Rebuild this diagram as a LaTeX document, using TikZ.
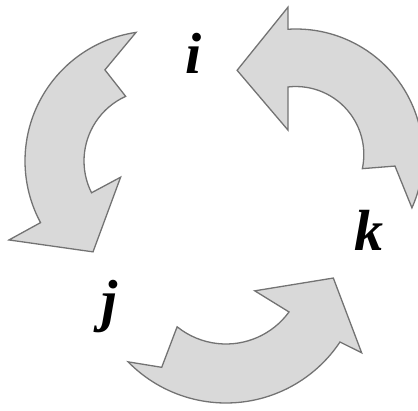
\documentclass[tikz,border=0pt]{standalone}
\usepackage{fontspec}
\setmainfont{Liberation Serif}
\begin{document}
\begin{tikzpicture}[x=1pt,y=-1pt,
  ar/.style={draw=black!55,fill=black!15,line width=1.3pt,line join=miter},
  lb/.style={font=\fontsize{58}{62}\selectfont\bfseries\itshape,anchor=base,inner sep=0pt}]
\useasboundingbox (0,0) rectangle (418,410);
%------------- arrow i -> j (left)
\begin{scope}[shift={(155,161)}]
\draw[ar] (261.6:130) arc[start angle=261.6,end angle=151.7,radius=130]
  -- (151.6:166) -- (124.3:110) -- (154.8:38) -- (153.4:71)
  arc[start angle=153.4,end angle=245.6,radius=71] -- (241.2:104) -- cycle;
\end{scope}
%------------- arrow k -> i (right)
\begin{scope}[shift={(296,156)}]
\draw[ar] (24.1:127) arc[start angle=24.1,end angle=-93.6,radius=127]
  -- (-93.1:149) -- (-124.5:104) -- (-107.1:27) -- (-96.6:69.5)
  arc[start angle=-96.6,end angle=12,radius=68] -- (5.8:99.5) -- cycle;
\end{scope}
%------------- arrow j -> k (bottom)
\begin{scope}[shift={(226,266)}]
\draw[ar] (135.6:137) arc[start angle=135.6,end angle=33.7,radius=137]
  -- (32.6:161) -- (6.4:108) -- (40.8:38) -- (36.1:78)
  arc[start angle=36.1,end angle=128.8,radius=78] -- (122.4:120) -- cycle;
\end{scope}
% labels
\node[lb] (i) at (194,73) {i};
\node[lb] (j) at (110,320) {j};
\node[lb] (k) at (369,250) {k};
\end{tikzpicture}
\end{document}
